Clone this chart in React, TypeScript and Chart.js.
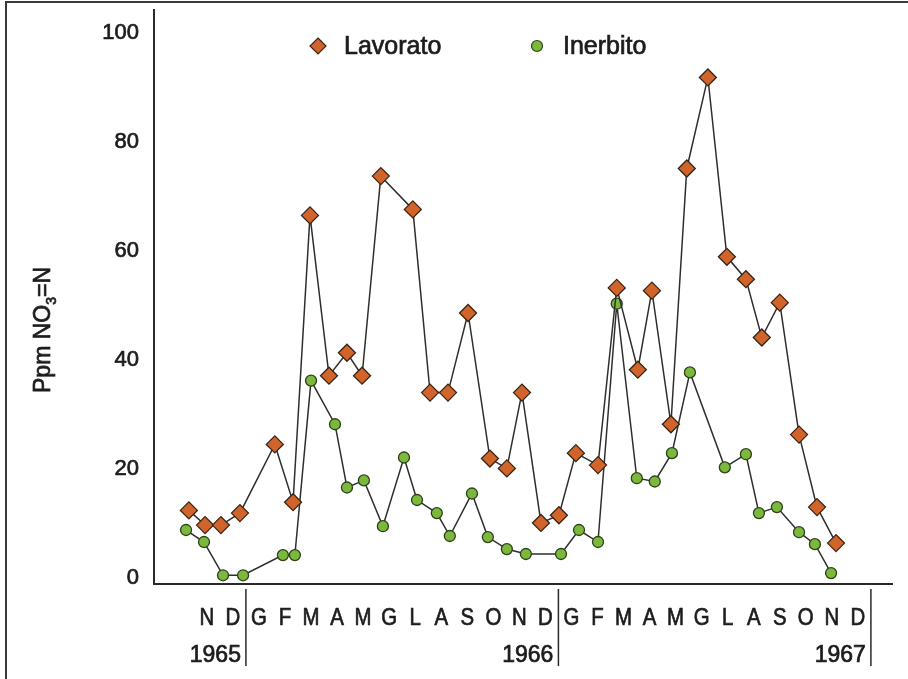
import React, { useEffect, useRef } from "react";
import { Chart, registerables } from "chart.js";

Chart.register(...registerables);

// x = months elapsed since 1 Nov 1965 (sampling dates), y = ppm NO3-N
const LAVORATO_MONTH = [-0.19, 0.43, 1.04, 1.77, 3.11, 3.81, 4.46, 5.19, 5.88, 6.46, 7.18, 8.41, 9.07, 9.76, 10.53, 11.37, 12.02, 12.6, 13.33, 14.02, 14.67, 15.52, 16.24, 17.05, 17.59, 18.32, 18.93, 19.74, 20.47, 21.2, 21.81, 22.5, 23.24, 23.93, 24.66];
const LAVORATO_VALUES = [12.4, 9.7, 9.7, 11.9, 24.5, 13.9, 66.5, 37.1, 41.3, 37.1, 73.7, 67.6, 34.0, 34.0, 48.6, 21.9, 20.1, 34.0, 10.1, 11.5, 22.9, 20.7, 53.2, 38.2, 52.7, 28.2, 75.1, 91.8, 58.9, 54.8, 44.1, 50.5, 26.3, 13.0, 6.4];

const INERBITO_MONTH = [-0.3, 0.39, 1.12, 1.89, 3.42, 3.88, 4.5, 5.42, 5.88, 6.53, 7.26, 8.07, 8.57, 9.33, 9.83, 10.68, 11.29, 12.02, 12.75, 14.1, 14.79, 15.52, 16.24, 17.01, 17.7, 18.36, 19.05, 20.39, 21.2, 21.7, 22.39, 23.24, 23.85, 24.47];
const INERBITO_VALUES = [8.8, 6.6, 0.5, 0.5, 4.2, 4.2, 36.2, 28.2, 16.6, 17.9, 9.5, 22.1, 14.3, 11.9, 7.7, 15.5, 7.5, 5.3, 4.4, 4.4, 8.8, 6.6, 50.3, 18.3, 17.7, 22.9, 37.7, 20.3, 22.7, 11.9, 13.0, 8.4, 6.2, 0.9];

const SERIES_LABELS = ["Lavorato", "Inerbito"];
const MONTH_LABELS = ["N", "D", "G", "F", "M", "A", "M", "G", "L", "A", "S", "O", "N", "D", "G", "F", "M", "A", "M", "G", "L", "A", "S", "O", "N", "D"];
const YEAR_LABELS = ["1965", "1966", "1967"];
const YEAR_ENDS = [2, 14, 26]; // month index at which each year's block ends
const Y_TICKS = [0, 20, 40, 60, 80, 100];

const FONT = '"Liberation Sans", Arial, Helvetica, sans-serif';
const INK = "#1c1c1c";
const ORANGE = "#d0642a";
const GREEN = "#7cb83e";
const HEAVY = 0.7; // faux medium weight via text stroke

function text(ctx: any, s: string, x: number, y: number) {
  ctx.fillText(s, x, y);
  ctx.strokeText(s, x, y);
}

const decorPlugin = {
  id: "decor",
  afterDraw(chart: any) {
    const { ctx, chartArea } = chart;
    const xs = chart.scales.x;
    ctx.save();
    // outer frame (top and left)
    ctx.strokeStyle = "#3a3a3a";
    ctx.lineWidth = 2;
    ctx.beginPath();
    ctx.moveTo(6, chart.height);
    ctx.lineTo(6, 2);
    ctx.lineTo(chart.width, 2);
    ctx.stroke();

    // month labels (slightly condensed)
    ctx.fillStyle = INK;
    ctx.strokeStyle = INK;
    ctx.lineWidth = HEAVY;
    ctx.font = `24px ${FONT}`;
    ctx.textAlign = "center";
    ctx.textBaseline = "middle";
    MONTH_LABELS.forEach((m, i) => {
      const px = xs.getPixelForValue(i + 0.5);
      ctx.save();
      ctx.translate(px, chartArea.bottom + 34);
      ctx.scale(0.85, 1);
      text(ctx, m, 0, 0);
      ctx.restore();
    });
    // year separators and labels
    ctx.textAlign = "right";
    ctx.font = `23px ${FONT}`;
    YEAR_ENDS.forEach((v, i) => {
      const px = xs.getPixelForValue(v);
      ctx.strokeStyle = "#2a2a2a";
      ctx.lineWidth = 1.5;
      ctx.beginPath();
      ctx.moveTo(px, chartArea.bottom + 5);
      ctx.lineTo(px, chartArea.bottom + 82);
      ctx.stroke();
      ctx.strokeStyle = INK;
      ctx.lineWidth = HEAVY;
      text(ctx, YEAR_LABELS[i], px - 5, chartArea.bottom + 72);
    });

    // y-axis title with subscript
    ctx.save();
    ctx.translate(50, 330);
    ctx.rotate(-Math.PI / 2);
    ctx.textAlign = "left";
    ctx.textBaseline = "alphabetic";
    ctx.strokeStyle = INK;
    ctx.lineWidth = HEAVY;
    const big = `23px ${FONT}`;
    const small = `14px ${FONT}`;
    const p1 = "Ppm NO", p2 = "3", p3 = "=N";
    ctx.font = big;
    const w1 = ctx.measureText(p1).width;
    const w3 = ctx.measureText(p3).width;
    ctx.font = small;
    const w2 = ctx.measureText(p2).width;
    let cx = -(w1 + w2 + w3) / 2;
    ctx.font = big;
    text(ctx, p1, cx, 0);
    cx += w1;
    ctx.font = small;
    text(ctx, p2, cx, 6);
    cx += w2;
    ctx.font = big;
    text(ctx, p3, cx, 0);
    ctx.restore();

    // legend
    ctx.font = `25px ${FONT}`;
    ctx.textAlign = "left";
    ctx.textBaseline = "middle";
    ctx.lineWidth = 1.2;
    ctx.strokeStyle = "#3a2515";
    const dx = 318, dy = 46, r = 8;
    ctx.fillStyle = ORANGE;
    ctx.beginPath();
    ctx.moveTo(dx, dy - r);
    ctx.lineTo(dx + r, dy);
    ctx.lineTo(dx, dy + r);
    ctx.lineTo(dx - r, dy);
    ctx.closePath();
    ctx.fill();
    ctx.stroke();
    ctx.fillStyle = INK;
    ctx.strokeStyle = INK;
    ctx.lineWidth = HEAVY;
    text(ctx, SERIES_LABELS[0], 344, 47);
    ctx.fillStyle = GREEN;
    ctx.strokeStyle = "#2c4318";
    ctx.lineWidth = 1.2;
    ctx.beginPath();
    ctx.arc(537, 46, 5.5, 0, Math.PI * 2);
    ctx.fill();
    ctx.stroke();
    ctx.fillStyle = INK;
    ctx.strokeStyle = INK;
    ctx.lineWidth = HEAVY;
    text(ctx, SERIES_LABELS[1], 563, 47);
    ctx.restore();
  },
};

export default function App() {
  const ref = useRef<HTMLCanvasElement>(null);
  useEffect(() => {
    if (!ref.current) return;
    const chart = new Chart(ref.current, {
      type: "line",
      data: {
        datasets: [
          {
            label: SERIES_LABELS[0],
            data: LAVORATO_MONTH.map((m, i) => ({ x: m, y: LAVORATO_VALUES[i] })),
            borderColor: "#2e2e2e",
            borderWidth: 1.5,
            pointStyle: "rectRot",
            pointRadius: 8.5,
            pointBackgroundColor: ORANGE,
            pointBorderColor: "#3a2515",
            pointBorderWidth: 1.3,
            tension: 0,
          },
          {
            label: SERIES_LABELS[1],
            data: INERBITO_MONTH.map((m, i) => ({ x: m, y: INERBITO_VALUES[i] })),
            borderColor: "#2e2e2e",
            borderWidth: 1.5,
            pointStyle: "circle",
            pointRadius: 5.5,
            pointBackgroundColor: GREEN,
            pointBorderColor: "#2c4318",
            pointBorderWidth: 1.3,
            tension: 0,
          },
        ],
      },
      options: {
        responsive: false,
        animation: false,
        layout: { padding: { left: 0, top: 8, right: 16, bottom: 95 } },
        plugins: { legend: { display: false }, tooltip: { enabled: false } },
        scales: {
          x: {
            type: "linear",
            min: -1.53,
            max: 26.81,
            afterFit: (s: any) => {
              s.paddingLeft = 0;
              s.paddingRight = 0;
            },
            grid: { display: false, drawTicks: false },
            ticks: { display: false },
            border: { display: true, color: "#2a2a2a", width: 2 },
          },
          y: {
            type: "linear",
            min: -1.1,
            max: 104.2,
            afterFit: (s: any) => {
              s.width = 154;
              s.paddingTop = 0;
              s.paddingBottom = 0;
            },
            afterBuildTicks: (s: any) => {
              s.ticks = Y_TICKS.map((v) => ({ value: v }));
            },
            grid: { display: false, drawTicks: false },
            ticks: {
              padding: 15,
              color: INK,
              textStrokeColor: INK,
              textStrokeWidth: HEAVY,
              font: { family: FONT, size: 22 },
            },
            border: { display: true, color: "#2a2a2a", width: 2 },
          },
        },
      },
      plugins: [decorPlugin],
    });
    return () => chart.destroy();
  }, []);
  return (
    <div style={{ position: "fixed", left: 0, top: 0, width: 908, height: 679, background: "#fff" }}>
      <canvas ref={ref} width={908} height={679} style={{ display: "block" }} />
    </div>
  );
}
